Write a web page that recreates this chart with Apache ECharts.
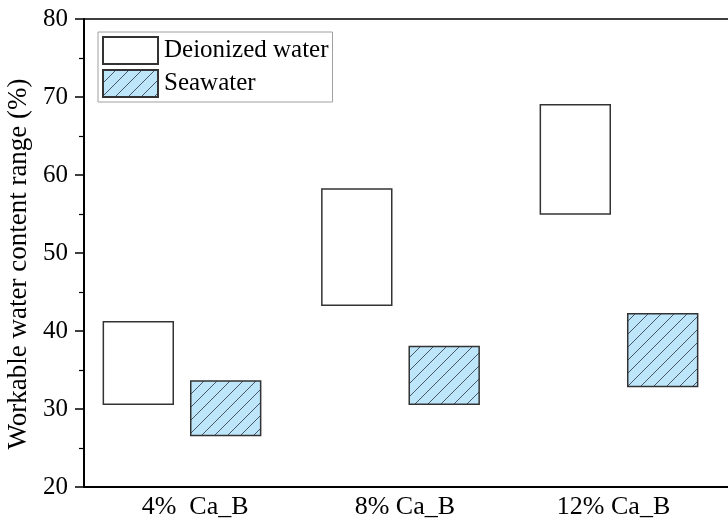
<!DOCTYPE html>
<html>
<head>
<meta charset="utf-8">
<script src="https://cdn.jsdelivr.net/npm/echarts@6/dist/echarts.min.js"></script>
<style>
  html, body { margin: 0; padding: 0; background: #fff; overflow: hidden; }
  #chart { width: 728px; height: 523px; }
</style>
</head>
<body>
<div id="chart"></div>
<script>
// Workable water content range for each Ca_B dosage
const categories = ['4%  Ca_B', '8% Ca_B', '12% Ca_B'];
const categoryAt = [1.06, 2.02, 2.975];
const deionizedLow = [30.6, 43.3, 55.0];
const deionizedHigh = [41.2, 58.2, 69.0];
const seawaterLow = [26.6, 30.6, 32.9];
const seawaterHigh = [33.6, 38.0, 42.2];
const yTicks = { min: 20, max: 80, step: 10 };

const FONT = 'Liberation Serif';
// the frame runs past the right edge of the canvas, so its right side is never drawn
const PLOT_W = 700, UNIT_PX = 218.5;
const X_MIN = 0.5515, X_MAX = X_MIN + PLOT_W / UNIT_PX;

// Diagonal hatch tile for the seawater boxes
function hatchPattern() {
  const s = 13;
  const c = document.createElement('canvas');
  c.width = s; c.height = s;
  const g = c.getContext('2d');
  g.fillStyle = '#bde6fb';
  g.fillRect(0, 0, s, s);
  g.strokeStyle = '#3a4550';
  g.lineWidth = 0.9;
  g.beginPath();
  g.moveTo(-1, s + 1); g.lineTo(s + 1, -1);
  g.moveTo(-1, 1); g.lineTo(1, -1);
  g.moveTo(s - 1, s + 1); g.lineTo(s + 1, s - 1);
  g.stroke();
  return { image: c, repeat: 'repeat' };
}

function rangeData(low, high, offset) {
  return low.map((v, i) => [i + 1 + offset, v, high[i]]);
}

const BOX_W = 0.32;
function renderBox(params, api) {
  const x = api.value(0);
  const lo = api.coord([x, api.value(1)]);
  const hi = api.coord([x, api.value(2)]);
  const w = api.size([BOX_W, 0])[0];
  return {
    type: 'rect',
    shape: { x: lo[0] - w / 2, y: hi[1], width: w, height: lo[1] - hi[1] },
    style: api.style()
  };
}

const chart = echarts.init(document.getElementById('chart'), null, { renderer: 'canvas' });
const pattern = hatchPattern();

chart.setOption({
  animation: false,
  backgroundColor: '#fff',
  textStyle: { fontFamily: FONT, color: '#000' },
  grid: { left: 84, top: 19, width: PLOT_W, height: 468, outerBoundsMode: 'none', containLabel: false, show: false },
  legend: {
    orient: 'vertical',
    left: 98, top: 32,
    itemWidth: 55, itemHeight: 27, itemGap: 4,
    padding: [4, 4, 4, 4],
    borderColor: '#a0a0a0', borderWidth: 1,
    icon: 'rect',
    textStyle: { fontFamily: FONT, fontSize: 25, lineHeight: 27, color: '#000', padding: [0, 0, 0, 1] },
    data: ['Deionized water', 'Seawater']
  },
  // keep the right edge of the plot open
  graphic: [{
    type: 'rect', right: 0, top: 21, z: 100, silent: true,
    shape: { width: 3, height: 464 },
    style: { fill: '#fff' }
  }],
  xAxis: [
    {
      type: 'value', position: 'bottom',
      min: X_MIN, max: X_MAX,
      axisLine: { show: true, onZero: false, lineStyle: { color: '#000', width: 2 } },
      axisTick: { show: false }, splitLine: { show: false },
      axisLabel: {
        show: true, fontFamily: FONT, fontSize: 26, color: '#000', margin: 7,
        customValues: categoryAt,
        showMinLabel: true, showMaxLabel: true,
        formatter: (v) => {
          const i = categoryAt.findIndex(p => Math.abs(p - v) < 1e-6);
          return i >= 0 ? categories[i] : '';
        }
      }
    },
    {
      // top frame line
      type: 'value', position: 'top',
      min: X_MIN, max: X_MAX,
      axisLine: { show: true, onZero: false, lineStyle: { color: '#000', width: 1.5 } },
      axisTick: { show: false }, axisLabel: { show: false }, splitLine: { show: false }
    }
  ],
  yAxis: {
    type: 'value',
    min: yTicks.min, max: yTicks.max, interval: yTicks.step,
    name: 'Workable water content range (%)',
    nameLocation: 'middle', nameGap: 48,
    nameTextStyle: { fontFamily: FONT, fontSize: 27, color: '#000', padding: [0, 22, 0, 0] },
    axisLine: { show: true, onZero: false, lineStyle: { color: '#000', width: 2 } },
    axisTick: { show: true, inside: false, length: 9, lineStyle: { color: '#000', width: 1.5 } },
    minorTick: { show: true, splitNumber: 2, length: 5, lineStyle: { color: '#000', width: 1.2 } },
    axisLabel: { fontFamily: FONT, fontSize: 25, color: '#000', margin: 16 },
    splitLine: { show: false }
  },
  series: [
    {
      name: 'Deionized water', type: 'custom',
      itemStyle: { color: '#ffffff', borderColor: '#333', borderWidth: 1.5 },
      renderItem: renderBox,
      encode: { x: 0, y: [1, 2] },
      data: rangeData(deionizedLow, deionizedHigh, -0.2)
    },
    {
      name: 'Seawater', type: 'custom',
      itemStyle: { color: pattern, borderColor: '#333', borderWidth: 1.5 },
      renderItem: renderBox,
      encode: { x: 0, y: [1, 2] },
      data: rangeData(seawaterLow, seawaterHigh, 0.2)
    }
  ]
});
</script>
</body>
</html>
